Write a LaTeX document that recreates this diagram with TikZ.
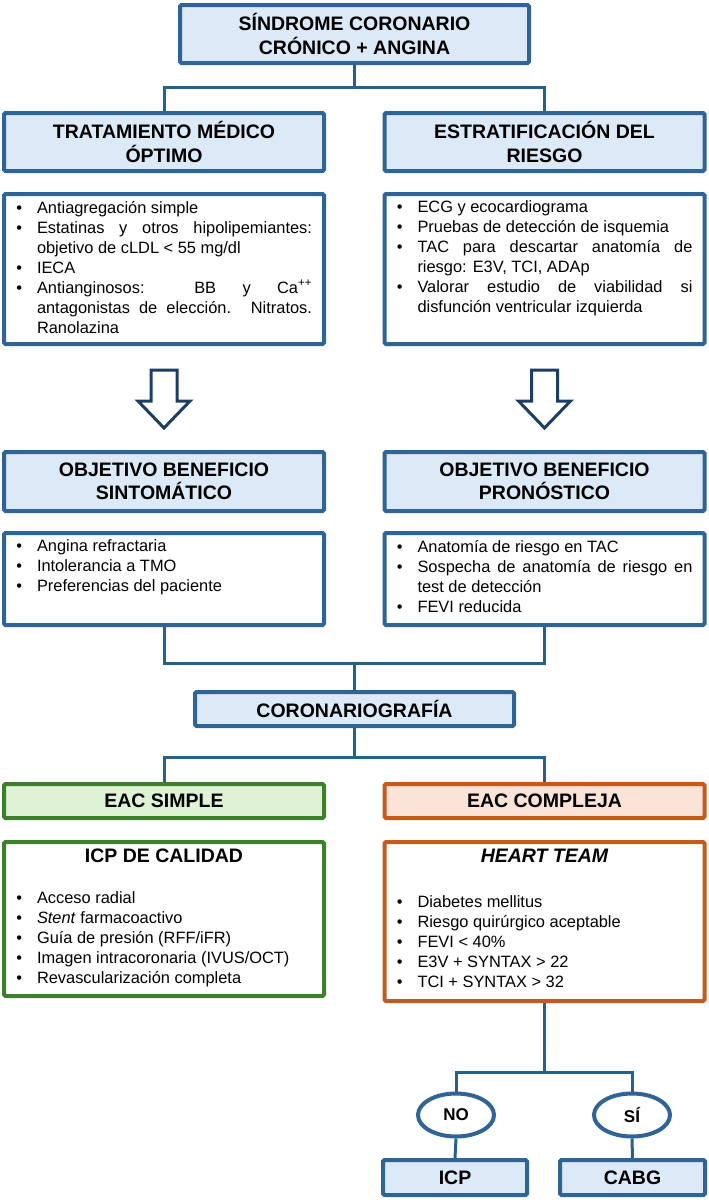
\documentclass[tikz,border=0pt]{standalone}
\usepackage{fontspec}
\setmainfont{Liberation Sans}
\usetikzlibrary{shapes.geometric}

\definecolor{boxblue}{HTML}{2E6496}
\definecolor{boxfill}{HTML}{DCE9F6}
\definecolor{linkblue}{HTML}{24628C}
\definecolor{arrowblue}{HTML}{1E3D63}
\definecolor{simplegreen}{HTML}{3D7F2B}
\definecolor{simplefill}{HTML}{DEF3D6}
\definecolor{complexorange}{HTML}{C55A1F}
\definecolor{complexfill}{HTML}{FBE3D7}

\newcommand{\headfont}{\fontsize{19.5}{23.5}\selectfont\bfseries}
\newcommand{\listfont}{\fontsize{16.4}{20}\selectfont}
\newenvironment{bulletlist}{\begin{list}{\textbullet}{%
  \setlength{\leftmargin}{21pt}\setlength{\labelsep}{15pt}\setlength{\labelwidth}{6pt}%
  \setlength{\itemsep}{0pt}\setlength{\parsep}{0pt}\setlength{\topsep}{0pt}\setlength{\partopsep}{0pt}}}%
  {\end{list}}
\newcommand{\listpage}[2]{\begin{minipage}[c][#1pt][t]{296pt}\listfont
  \tolerance=9999\hyphenpenalty=10000\vspace*{7pt}#2\end{minipage}}

\begin{document}
\begin{tikzpicture}[x=1pt,y=-1pt,
    headbox/.style={draw=boxblue,fill=boxfill,line width=4pt,rounded corners=1.5pt,
      inner sep=0pt,align=center,font=\headfont,minimum width=320pt},
    listbox/.style={draw=boxblue,fill=white,line width=4pt,rounded corners=1.5pt,
      inner sep=0pt,minimum width=320pt},
    link/.style={draw=linkblue,line width=3pt},
    hollow/.style={draw=arrowblue,fill=white,line width=3pt,line join=miter},
    choice/.style={ellipse,draw=boxblue,fill=white,line width=4pt,minimum width=76pt,
      minimum height=43pt,inner sep=0pt,font=\fontsize{17}{20}\selectfont\bfseries}]
  \useasboundingbox (0,0) rectangle (709,1200);

  % top
  \node[headbox,minimum width=349pt,minimum height=58pt] (scc) at (354.5,34) {SÍNDROME CORONARIO\\CRÓNICO + ANGINA};
  \node[headbox,minimum height=58pt] (tmo) at (164,142) {TRATAMIENTO MÉDICO\\ÓPTIMO};
  \node[headbox,minimum height=58pt] (estrat) at (544.5,142) {ESTRATIFICACIÓN DEL\\RIESGO};
  \coordinate (j1) at (354.5,87);
  \draw[link] (scc.south) -- (j1) -| (tmo.north);
  \draw[link] (j1) -| (estrat.north);

  \node[listbox,minimum height=150pt] (tmoList) at (164,269) {\listpage{150}{\begin{bulletlist}
    \item Antiagregación simple
    \item Estatinas y otros hipolipemiantes: objetivo de cLDL < 55 mg/dl
    \item IECA
    \item Antianginosos: BB y Ca\textsuperscript{++} antagonistas de elección. Nitratos. Ranolazina
  \end{bulletlist}}};
  \node[listbox,minimum height=150pt] (estratList) at (544.5,269) {\listpage{150}{\begin{bulletlist}
    \item ECG y ecocardiograma
    \item Pruebas de detección de isquemia
    \item TAC para descartar anatomía de riesgo: E3V, TCI, ADAp
    \item Valorar estudio de viabilidad si disfunción ventricular izquierda
  \end{bulletlist}}};

  % hollow arrows
  \draw[hollow] (tmoList.south) ++(-13,24) -- ++(0,31) -- ++(-13,0) -- ++(26,27) -- ++(26,-27) -- ++(-13,0) -- ++(0,-31) -- cycle;
  \draw[hollow] (estratList.south) ++(-13,24) -- ++(0,31) -- ++(-13,0) -- ++(26,27) -- ++(26,-27) -- ++(-13,0) -- ++(0,-31) -- cycle;

  \node[headbox,minimum height=59pt] (sint) at (164,481.5) {OBJETIVO BENEFICIO\\SINTOMÁTICO};
  \node[headbox,minimum height=59pt] (pron) at (544.5,481.5) {OBJETIVO BENEFICIO\\PRONÓSTICO};

  \node[listbox,minimum height=92pt] (sintList) at (164,579) {\listpage{92}{\begin{bulletlist}
    \item Angina refractaria
    \item Intolerancia a TMO
    \item Preferencias del paciente
  \end{bulletlist}}};
  \node[listbox,minimum height=92pt] (pronList) at (544.5,579) {\listpage{92}{\begin{bulletlist}
    \item Anatomía de riesgo en TAC
    \item Sospecha de anatomía de riesgo en test de detección
    \item FEVI reducida
  \end{bulletlist}}};

  % coronariografia
  \coordinate (j2) at (354.5,663);
  \draw[link] (sintList.south) |- (j2) -| (pronList.south);
  \node[headbox,minimum width=319pt,minimum height=34pt] (coro) at (354.5,709) {CORONARIOGRAFÍA};
  \draw[link] (j2) -- (coro.north);

  \coordinate (j3) at (354.5,757);
  \node[headbox,draw=simplegreen,fill=simplefill,minimum height=34pt] (simple) at (164,801) {EAC SIMPLE};
  \node[headbox,draw=complexorange,fill=complexfill,minimum height=34pt] (compleja) at (544.5,801) {EAC COMPLEJA};
  \draw[link] (coro.south) -- (j3) -| (simple.north);
  \draw[link] (j3) -| (compleja.north);

  \node[listbox,draw=simplegreen,minimum height=154pt] (icpList) at (164,919) {\listpage{154}{%
    {\centering\headfont ICP DE CALIDAD\par}\vspace{21pt}
    \begin{bulletlist}
    \item Acceso radial
    \item \textit{Stent} farmacoactivo
    \item Guía de presión (RFF/iFR)
    \item Imagen intracoronaria (IVUS/OCT)
    \item Revascularización completa
  \end{bulletlist}}};
  \node[listbox,draw=complexorange,minimum height=159pt] (heartList) at (544.5,921.5) {\listpage{159}{%
    {\centering\headfont\itshape HEART TEAM\par}\vspace{25pt}
    \begin{bulletlist}
    \item Diabetes mellitus
    \item Riesgo quirúrgico aceptable
    \item FEVI < 40\%
    \item E3V + SYNTAX > 22
    \item TCI + SYNTAX > 32
  \end{bulletlist}}};

  % decision
  \coordinate (j4) at (544.5,1072);
  \node[choice] (no) at (456,1115) {NO};
  \node[choice] (si) at (632,1115) {SÍ};
  \draw[link] (heartList.south) -- (j4) -| (no.north);
  \draw[link] (j4) -| (si.north);
  \node[headbox,minimum width=144pt,minimum height=35pt] (icp) at (455,1177.5) {ICP};
  \node[headbox,minimum width=145pt,minimum height=35pt] (cabg) at (632.5,1177.5) {CABG};
  \draw[link] (no.south) -- (icp.north);
  \draw[link] (si.south) -- (cabg.north);
\end{tikzpicture}
\end{document}
